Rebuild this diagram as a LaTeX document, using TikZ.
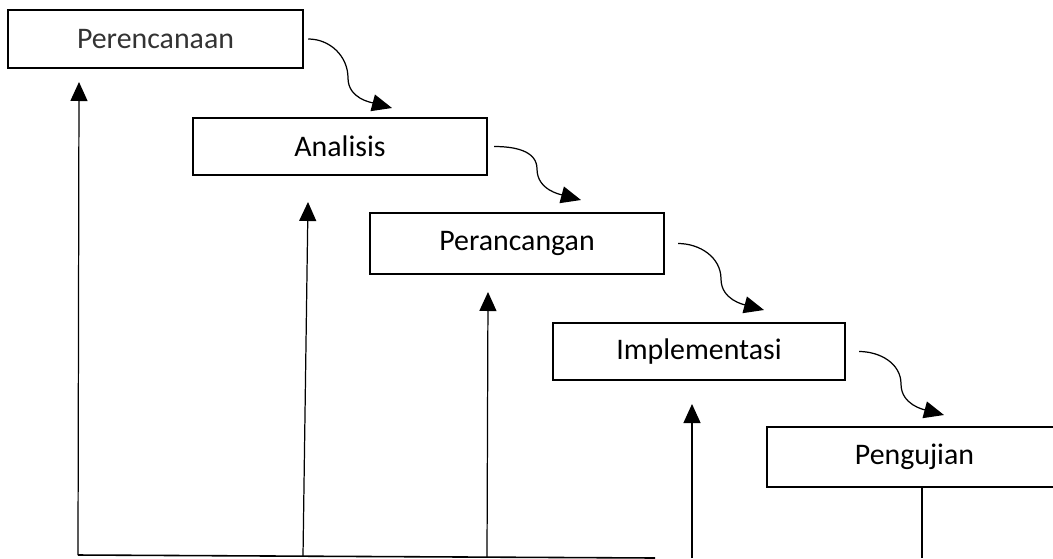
\documentclass[tikz,border=0pt]{standalone}
\usepackage{fontspec}
\setmainfont{Carlito}
\usetikzlibrary{arrows.meta}
\tikzset{
	stage/.style={draw, line width=1.5pt, inner sep=0pt, outer sep=0pt, font=\fontsize{17}{19}\selectfont},
	flow/.style={line width=0.7pt, -{Triangle[length=4mm,width=3.4mm]}},
	back/.style={line width=0.7pt, -{Triangle[length=3.8mm,width=3.4mm]}}
}
\begin{document}
\begin{tikzpicture}[x=0.02cm, y=-0.02cm]
		\useasboundingbox (0,0) rectangle (1053,558);
		% boxes
		\node (Pr) at (155.5,39) [stage, minimum width=5.9cm, minimum height=1.16cm, text=black!80] {Perencanaan};
		\node (An) at (340,146.5) [stage, minimum width=5.88cm, minimum height=1.14cm] {Analisis};
		\node (Pc) at (517,243.5) [stage, minimum width=5.88cm, minimum height=1.22cm] {Perancangan};
		\node (Im) at (699,351.5) [stage, minimum width=5.84cm, minimum height=1.14cm] {Implementasi};
		\node (Pg) at (914.5,457) [stage, minimum width=5.9cm, minimum height=1.2cm] {Pengujian};
		% arrow ends
		\coordinate (e1) at (392,108);
		\coordinate (e2) at (581,200);
		\coordinate (e3) at (764,310);
		\coordinate (e4) at (944,415);
		\draw[flow] ([xshift=3pt]Pr.east) to[out=0, in=90] (348,78) to[out=-90, in=165] (e1);
		\draw[flow] ([xshift=4pt]An.east) to[out=0, in=90] (537,169) to[out=-90, in=165] (e2);
		\draw[flow] ([xshift=8pt]Pc.east) to[out=0, in=90] (721,279) to[out=-90, in=165] (e3);
		\draw[flow] ([xshift=8pt]Im.east) to[out=0, in=90] (901,384) to[out=-90, in=165] (e4);
		% feedback lines
		\coordinate (b1) at (78,555);
		\coordinate (b2) at (303,556);
		\coordinate (b3) at (487,557);
		\coordinate (b4) at (692,558);
		\coordinate (b5) at (922,558);
		\coordinate (t1) at (79,82);
		\coordinate (t2) at (308,202);
		\coordinate (t3) at (488,292);
		\coordinate (t4) at (692,404);
		\draw[line width=0.9pt] (b1) -- (655,558);
		\draw[back] (b1) -- (t1);
		\draw[back] (b2) -- (t2);
		\draw[back] (b3) -- (t3);
		\draw[back] (b4) -- (t4);
		\draw[line width=0.7pt] (Pg.south -| b5) -- (b5);
	\end{tikzpicture}
\end{document}
